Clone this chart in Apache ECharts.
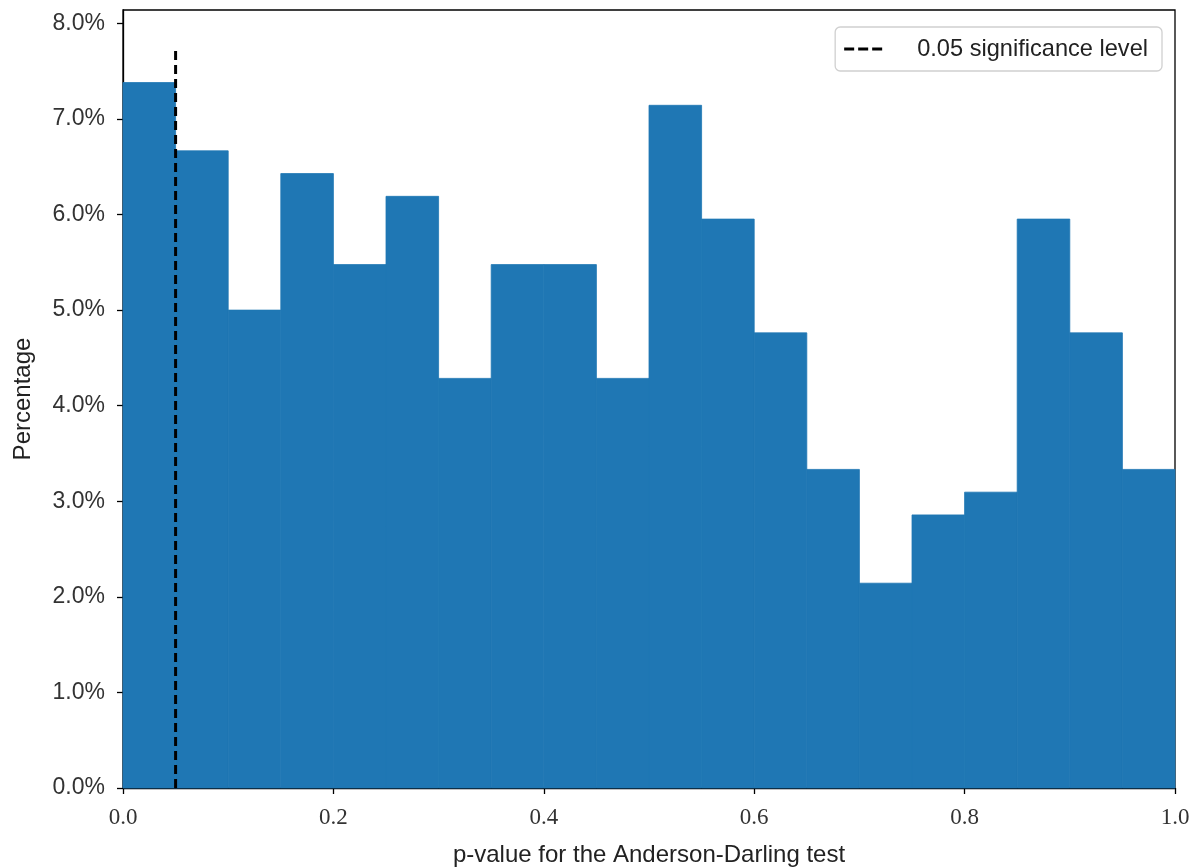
<!DOCTYPE html>
<html>
<head>
<meta charset="utf-8">
<script src="https://cdn.jsdelivr.net/npm/echarts@6/dist/echarts.min.js"></script>
<style>html,body{margin:0;padding:0;background:#fff}#c{width:1197px;height:868px}</style>
</head>
<body>
<div id="c"></div>
<script>
// Histogram of p-values (bin width 0.05), percentages of 420 observations
const binEdges = [0,0.05,0.1,0.15,0.2,0.25,0.3,0.35,0.4,0.45,0.5,0.55,0.6,0.65,0.7,0.75,0.8,0.85,0.9,0.95,1.0];
const binCounts = [31,28,21,27,23,26,18,23,23,18,30,25,20,14,9,12,13,25,20,14];
const totalCount = 420;
const percentages = binCounts.map(c => c / totalCount * 100);
const xTicks = [0.0,0.2,0.4,0.6,0.8,1.0];
const yTicks = [0,1,2,3,4,5,6,7,8];
const sigLevel = 0.05;
const sigLineTop = 7.75;
const yMax = 8.14;

const bins = percentages.map((v, i) => [binEdges[i], binEdges[i+1], v]);

const chart = echarts.init(document.getElementById('c'));
const sans = '"Liberation Sans Narrow","Liberation Sans",sans-serif';
const serif = '"Liberation Serif","DejaVu Serif",serif';
chart.setOption({
  animation: false,
  grid: {left:123, top:10, width:1052, height:778, outerBoundsMode:'none', containLabel:false,
         show:true, borderColor:'#000', borderWidth:1.3, backgroundColor:'transparent'},
  legend: {
    right: 35, top: 27, orient:'horizontal',
    data: [{name:'0.05 significance level', icon:'path://M0,0h10v3h-10z M14,0h10v3h-10z M28,0h10v3h-10z'}],
    backgroundColor:'#fff', borderColor:'#d0d0d0', borderWidth:1.3, borderRadius:5,
    padding:[10,14,10,9], itemWidth:38, itemHeight:3, itemGap:10,
    itemStyle:{color:'#000'},
    textStyle:{fontFamily:sans, fontSize:23.6, color:'#222', padding:[0,0,0,30]}
  },
  xAxis: {
    type:'value', min:0, max:1, interval:0.2,
    name:'p-value for the Anderson-Darling test', nameLocation:'middle', nameGap:55,
    nameTextStyle:{fontFamily:sans, fontSize:24, color:'#222'},
    axisLine:{lineStyle:{color:'#000', width:1.3}},
    axisTick:{show:true, length:6, lineStyle:{color:'#000', width:1.3}},
    axisLabel:{fontFamily:serif, fontSize:23, color:'#333', margin:18, formatter:v=>v.toFixed(1)},
    splitLine:{show:false}
  },
  yAxis: {
    type:'value', min:0, max:yMax,
    name:'Percentage', nameLocation:'middle', nameGap:88, nameRotate:90,
    nameTextStyle:{fontFamily:sans, fontSize:24, color:'#222'},
    axisLine:{show:true, lineStyle:{color:'#000', width:1.3}},
    axisTick:{show:true, length:6, customValues:yTicks, lineStyle:{color:'#000', width:1.3}},
    axisLabel:{fontFamily:sans, fontSize:23, color:'#333', margin:18, customValues:yTicks, formatter:v=>v.toFixed(1)+'%'},
    splitLine:{show:false}
  },
  series: [
    {
      type:'custom', name:'hist', data:bins, encode:{x:[0,1], y:2},
      renderItem:(params, api) => {
        const p0 = api.coord([api.value(0), 0]);
        const p1 = api.coord([api.value(1), api.value(2)]);
        return {type:'rect', shape:{x:p0[0], y:p1[1], width:p1[0]-p0[0], height:p0[1]-p1[1]},
                style:{fill:'#1f77b4', stroke:'#1f77b4', lineWidth:0.8}};
      },
      z:1
    },
    {
      type:'line', name:'0.05 significance level',
      data:[[sigLevel,0],[sigLevel,sigLineTop]],
      symbol:'none', lineStyle:{color:'#000', width:3, type:[9,5]},
      itemStyle:{color:'#000'}, z:5
    }
  ]
});
</script>
</body>
</html>
